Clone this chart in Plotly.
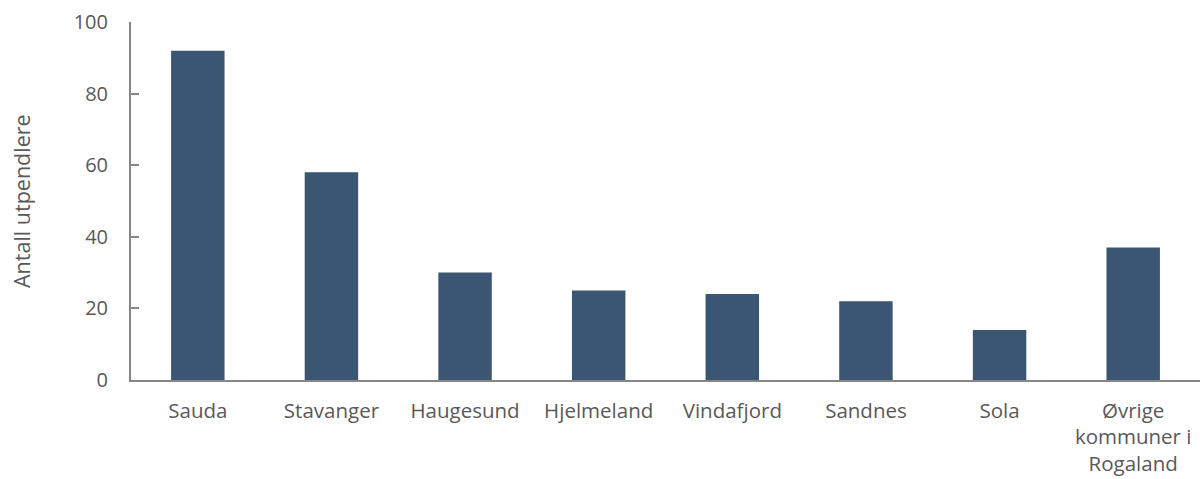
import plotly.graph_objects as go

categories = ["Sauda", "Stavanger", "Haugesund", "Hjelmeland", "Vindafjord",
              "Sandnes", "Sola", "Øvrige<br>kommuner i<br>Rogaland"]
values = [92, 58, 30, 25, 24, 22, 14, 37]
y_ticks = [0, 20, 40, 60, 80, 100]

bar_color = "#3a5673"
text_color = "#595959"
axis_color = "#868686"
font_family = "Open Sans, Liberation Sans, sans-serif"

fig = go.Figure()
fig.add_trace(go.Bar(
    x=categories, y=values,
    marker=dict(color=bar_color, line=dict(width=0)),
    width=0.4,
))

fig.update_layout(
    width=1200, height=479,
    margin=dict(l=131, r=0, t=22, b=99),
    plot_bgcolor="white", paper_bgcolor="white",
    showlegend=False,
    font=dict(family=font_family, color=text_color, size=20),
    xaxis=dict(
        showline=True, linecolor=axis_color, linewidth=2,
        ticks="", showgrid=False, automargin=False,
        tickfont=dict(size=20.5, color=text_color),
        ticklabelstandoff=11,
    ),
    yaxis=dict(
        range=[0, 100], tickvals=y_ticks,
        showline=True, linecolor=axis_color, linewidth=2,
        ticks="inside", ticklen=8, tickcolor=axis_color, tickwidth=2,
        showgrid=False, zeroline=False, automargin=False,
        tickfont=dict(size=20, color=text_color),
        ticklabelstandoff=17,
    ),
    annotations=[dict(
        text="Antall utpendlere", textangle=-90,
        xref="paper", yref="paper", x=0, y=0.5,
        xanchor="center", yanchor="middle", xshift=-110,
        showarrow=False, font=dict(size=21.5, color=text_color),
    )],
)

fig.write_html(
    "out.html",
    config={"displayModeBar": False},
    post_script="document.body.style.margin='0px';document.body.style.overflow='hidden';",
)
